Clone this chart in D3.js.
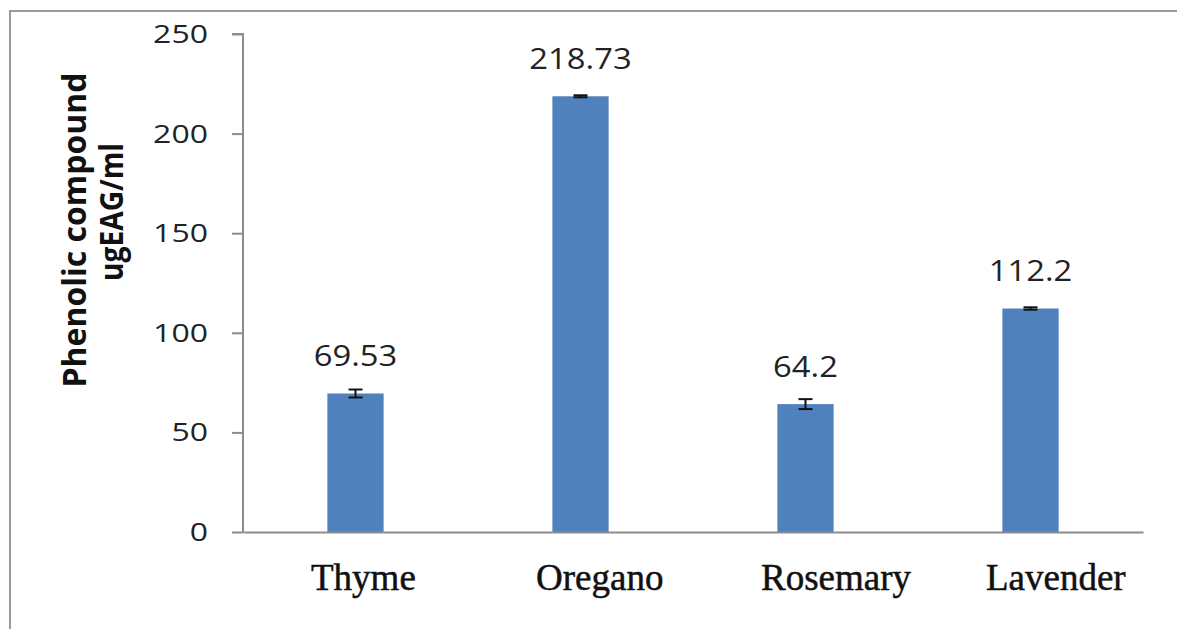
<!DOCTYPE html>
<html>
<head>
<meta charset="utf-8">
<script src="https://cdn.jsdelivr.net/npm/d3@7"></script>
<style>
  html, body { margin: 0; padding: 0; background: #fff; }
  svg { display: block; }
</style>
</head>
<body>
<svg id="chart" width="1177" height="629"></svg>
<script>
const categories = ["Thyme", "Oregano", "Rosemary", "Lavender"];
const values = [69.53, 218.73, 64.2, 112.2];
const errors = [2.0, 0.5, 2.5, 0.6];
const valueLabels = ["69.53", "218.73", "64.2", "112.2"];
const yTicks = [0, 50, 100, 150, 200, 250];
const yTitleLines = ["Phenolic compound", "ugEAG/ml"];

const svg = d3.select("#chart");

// outer frame (only left and top edges visible in the picture)
svg.append("path")
  .attr("d", "M10,640V11H1190")
  .attr("fill", "none").attr("stroke", "#9a9a9a").attr("stroke-width", 2);

const plotLeft = 243, plotRight = 1143, plotTop = 34, plotBottom = 532;

const x = d3.scaleBand().domain(categories).range([plotLeft, plotRight]).paddingInner(0.75).paddingOuter(0.375);
const xb = d3.scaleBand().domain(categories).range([plotLeft, plotRight]);
const y = d3.scaleLinear().domain([0, 250]).range([plotBottom, plotTop]);

// y axis
const yAxis = d3.axisLeft(y).tickValues(yTicks).tickSize(11).tickFormat("");
const gy = svg.append("g").attr("transform", `translate(${plotLeft},0)`).call(yAxis);
gy.select(".domain").attr("stroke", "#8c8c8c").attr("stroke-width", 2).attr("d", `M-11,${plotTop}H0V${plotBottom}`);
gy.selectAll(".tick line").attr("stroke", "#8c8c8c").attr("stroke-width", 2);

// y tick labels (wide rendering)
svg.append("g").selectAll("text").data(yTicks).join("text")
  .attr("transform", d => `translate(208,${y(d)}) scale(1.28,1)`)
  .attr("dy", "0.36em")
  .attr("text-anchor", "end")
  .attr("font-family", "'Open Sans', sans-serif")
  .attr("font-size", 25).attr("fill", "#222")
  .text(d => d);

// bars
svg.append("g").selectAll("rect").data(categories).join("rect")
  .attr("x", d => x(d))
  .attr("width", x.bandwidth())
  .attr("y", (d, i) => y(values[i]))
  .attr("height", (d, i) => y(0) - y(values[i]))
  .attr("fill", "#4F81BD");

// x axis
const xAxis = d3.axisBottom(xb).tickSize(0).tickFormat("");
const gx = svg.append("g").attr("transform", `translate(0,${plotBottom})`).call(xAxis);
gx.select(".domain").attr("stroke", "#8c8c8c").attr("stroke-width", 2);

// category labels
svg.append("g").selectAll("text").data(categories).join("text")
  .attr("x", d => xb(d) + 68)
  .attr("y", 590)
  .attr("text-anchor", "start")
  .attr("font-family", "'Liberation Serif', 'Times New Roman', serif")
  .attr("font-size", 37).attr("fill", "#111")
  .attr("stroke", "#111").attr("stroke-width", 0.5)
  .text(d => d);

// error bars
const eg = svg.append("g").attr("stroke", "#111").attr("stroke-width", 2);
categories.forEach((c, i) => {
  const cx = x(c) + x.bandwidth() / 2;
  const y1 = y(values[i] + errors[i]), y2 = y(values[i] - errors[i]);
  eg.append("line").attr("x1", cx).attr("x2", cx).attr("y1", y1).attr("y2", y2);
  eg.append("line").attr("x1", cx - 7).attr("x2", cx + 7).attr("y1", y1).attr("y2", y1);
  eg.append("line").attr("x1", cx - 7).attr("x2", cx + 7).attr("y1", y2).attr("y2", y2);
});

// value labels
svg.append("g").selectAll("text").data(categories).join("text")
  .attr("transform", (d, i) => `translate(${x(d) + x.bandwidth() / 2},${y(values[i]) - 27}) scale(1.13,1)`)
  .attr("text-anchor", "middle")
  .attr("font-family", "'Open Sans', sans-serif")
  .attr("font-size", 29).attr("fill", "#222")
  .text((d, i) => valueLabels[i]);

// y title
const titlePos = [{ bx: 86, cy: 230, sx: 1.0 }, { bx: 123, cy: 212, sx: 0.88 }];
yTitleLines.forEach((t, i) => {
  svg.append("text")
    .attr("transform", `translate(${titlePos[i].bx},${titlePos[i].cy}) rotate(-90) scale(${titlePos[i].sx},1)`)
    .attr("text-anchor", "middle")
    .attr("font-family", "'Open Sans', sans-serif")
    .attr("font-weight", "bold")
    .attr("font-size", 32).attr("fill", "#111")
    .text(t);
});
</script>
</body>
</html>
